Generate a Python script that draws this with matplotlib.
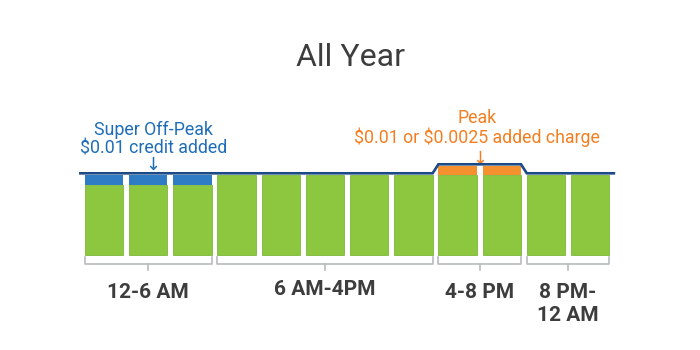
import matplotlib.pyplot as plt
import numpy as np

plt.rcParams['font.family'] = ['Roboto', 'DejaVu Sans']

# data
green = [7.0, 7.0, 7.0, 8.0, 8.0, 8.0, 8.0, 8.0, 8.0, 8.0, 8.0, 8.0]
credit = [1.0, 1.0, 1.0, 0, 0, 0, 0, 0, 0, 0, 0, 0]
charge = [0, 0, 0, 0, 0, 0, 0, 0, 0.9, 0.9, 0, 0]
groups = [(0, 2), (3, 7), (8, 9), (10, 11)]
group_labels = ['12-6 AM', '6 AM-4PM', '4-8 PM', '8 PM-\n12 AM']
label_dy = [0, 0.3, 0, 0]

GREEN = '#8dc63f'
BLUE = '#2f7cc5'
ORANGE = '#f5902f'
NAVY = '#1b4a86'
GRAY = '#3d3d3d'

x = np.arange(len(green))
w = 0.87

fig = plt.figure(figsize=(7, 3.5), dpi=100)
ax = fig.add_axes([0, 0, 1, 1])
ax.set_xlim(-2.353, 13.484)
ax.set_ylim(-9.5, 25.5)
ax.axis('off')

ax.bar(x, green, width=w, color=GREEN, edgecolor='#7db83a', linewidth=0.6)
ax.bar(x, credit, bottom=green, width=w, color=BLUE, linewidth=0)
ax.bar(x, charge, bottom=np.array(green) + np.array(credit), width=w, color=ORANGE, linewidth=0)

# outline line over the bar tops
top = np.array(green) + np.array(credit) + np.array(charge) + 0.17
lx, ly = [], []
for i in range(len(x)):
    pad = 0.1 if i in (0, len(x) - 1) else 0
    lx += [x[i] - w / 2 - pad, x[i] + w / 2 + pad]
    ly += [top[i], top[i]]
ax.plot(lx, ly, color=NAVY, lw=1.9, solid_joinstyle='miter', zorder=5)

# brackets
yb = -0.85
for (a, b), lab, dy in zip(groups, group_labels, label_dy):
    x0 = a - w / 2
    x1 = b + w / 2
    xm = (x0 + x1) / 2
    ax.plot([x0, x0, x1, x1], [yb + 0.65, yb, yb, yb + 0.65], color='#b8bbbf', lw=1.2)
    ax.plot([xm, xm], [yb, yb - 0.6], color='#b8bbbf', lw=1.2)
    ax.text(xm, -2.8 + dy, lab, ha='center', va='top', fontsize=15, fontweight='bold',
            color=GRAY, linespacing=1.25)

ax.text(0.5, 0.837, 'All Year', transform=ax.transAxes, ha='center', va='center',
        fontsize=23, color=GRAY)

ax.text(1.12, 11.6, 'Super Off-Peak\n\\$0.01 credit added', ha='center', va='center',
        fontsize=12.8, color='#1f6db8', linespacing=1.0)
ax.text(1.11, 9.0, '↓', ha='center', va='center', fontsize=13, color='#1f6db8')

ax.text(8.44, 12.7, 'Peak\n\\$0.01 or \\$0.0025 added charge', ha='center', va='center',
        fontsize=12.8, color='#f47f22', linespacing=1.05)
ax.text(8.5, 9.6, '↓', ha='center', va='center', fontsize=13, color='#f47f22')

fig.savefig('out.png', dpi=100)
